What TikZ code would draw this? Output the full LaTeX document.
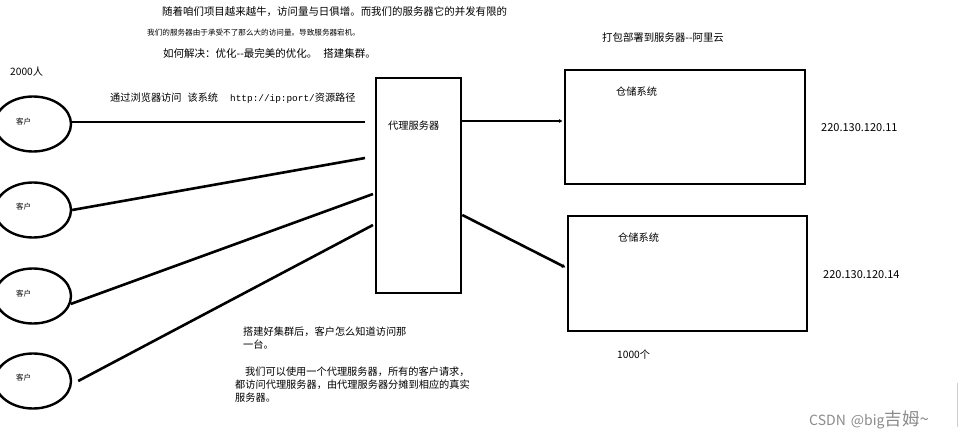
\documentclass[tikz,border=0pt]{standalone}
\usepackage{fontspec}
\setmainfont{Noto Sans CJK SC}
\newfontfamily\monof{Liberation Mono}
\usetikzlibrary{shapes.geometric,arrows.meta}
\begin{document}
\begin{tikzpicture}[x=1pt,y=-1pt,
  txt/.style={font=\fontsize{10.2}{12}\selectfont, inner sep=0pt, anchor=west},
  small/.style={font=\fontsize{7.6}{9}\selectfont, inner sep=0pt, anchor=west},
  clabel/.style={font=\fontsize{7.5}{8}\selectfont, inner sep=0pt, anchor=west},
  client/.style={ellipse, draw, line width=2.4pt, minimum width=76pt, minimum height=55pt, inner sep=0pt},
  box/.style={draw, line width=2.6pt, inner sep=0pt},
  link/.style={line width=2.6pt},
  arr/.style={line width=2.6pt, -{Stealth[length=3.5pt,width=4pt]}, shorten >=1.4pt},
  wmark/.style={font=\fontsize{14}{16}\selectfont, text=black!45, inner sep=0pt, anchor=west}
]
\useasboundingbox (0,0) rectangle (962,439);
\fill[white] (0,0) rectangle (962,439);

% top texts
\node[txt, font=\fontsize{10.45}{12}\selectfont] (t1) at (162,12) {随着咱们项目越来越牛，访问量与日俱增。而我们的服务器它的并发有限的};
\node[small] (t2) at (147,33) {我们的服务器由于承受不了那么大的访问量。导致服务器宕机。};
\node[txt, font=\fontsize{10.5}{12}\selectfont] (t3) at (163,53) {如何解决：优化-{}-最完美的优化。\hspace{6pt}搭建集群。};
\node[txt, font=\fontsize{10.4}{12}\selectfont] (deploy) at (602,38) {打包部署到服务器-{}-阿里云};
\node[txt] (n2000) at (10,72) {2000人};
\node[txt] (browse) at (110,98) {通过浏览器访问\hspace{6pt}该系统\hspace{12pt}{\monof\fontsize{9.4}{11}\selectfont http://ip:port/}资源路径};

% clients
\node[client] (c1) at (33,124) {};
\node[client] (c2) at (33,210) {};
\node[client] (c3) at (33,296) {};
\node[client] (c4) at (33,381) {};
\node[clabel] (c1t) at (16,122) {客户};
\node[clabel] (c2t) at (16,207) {客户};
\node[clabel] (c3t) at (16,294) {客户};
\node[clabel] (c4t) at (16,378) {客户};

% proxy
\node[box, minimum width=85pt, minimum height=215pt] (proxy) at (418.5,185.5) {};
\node[txt] (proxyt) at (388,126) {代理服务器};

% warehouses
\node[box, minimum width=240pt, minimum height=114pt] (w1) at (685,127) {};
\node[box, minimum width=239pt, minimum height=115pt] (w2) at (687.5,273.5) {};
\node[txt] (w1t) at (616,92) {仓储系统};
\node[txt] (w2t) at (618,238) {仓储系统};
\node[txt, font=\fontsize{11}{13}\selectfont] (ip1) at (821,128) {220.130.120.11};
\node[txt, font=\fontsize{11}{13}\selectfont] (ip2) at (823,275) {220.130.120.14};
\node[txt] (n1000) at (617,355) {1000个};

% connectors
\coordinate (p1) at (365,122);
\coordinate (p2) at (365,158);
\coordinate (p3) at (373,194);
\coordinate (p4) at (373,225);
\draw[link] (c1.east |- p1) -- (p1);
\draw[link] (p2) -- (c2.east);
\draw[link] (p3) -- (c3.-12);
\draw[link] (p4) -- ([xshift=6pt]c4.east);

\coordinate (a1) at ([yshift=6pt]w1.west);
\draw[arr] (proxy.east |- a1) -- (a1);
\coordinate (a2) at ([yshift=5.5pt]w2.west);
\draw[arr] ([yshift=-29.5pt]proxy.east) -- (a2);

% bottom texts
\node[txt] (b1) at (243,332) {搭建好集群后，客户怎么知道访问那};
\node[txt] (b2) at (243,345) {一台。};
\node[txt] (b3) at (245,372) {我们可以使用一个代理服务器，所有的客户请求，};
\node[txt] (b4) at (235,385) {都访问代理服务器，由代理服务器分摊到相应的真实};
\node[txt] (b5) at (235,398) {服务器。};

% watermark
\node[wmark] (wm) at (809,420) {CSDN\hspace{2pt} @big{\fontsize{17.5}{18}\selectfont 吉姆}{\fontsize{17}{18}\selectfont\textasciitilde}};
\draw[black!20, line width=0.8pt] (957,383) -- (957,427);
\end{tikzpicture}
\end{document}
